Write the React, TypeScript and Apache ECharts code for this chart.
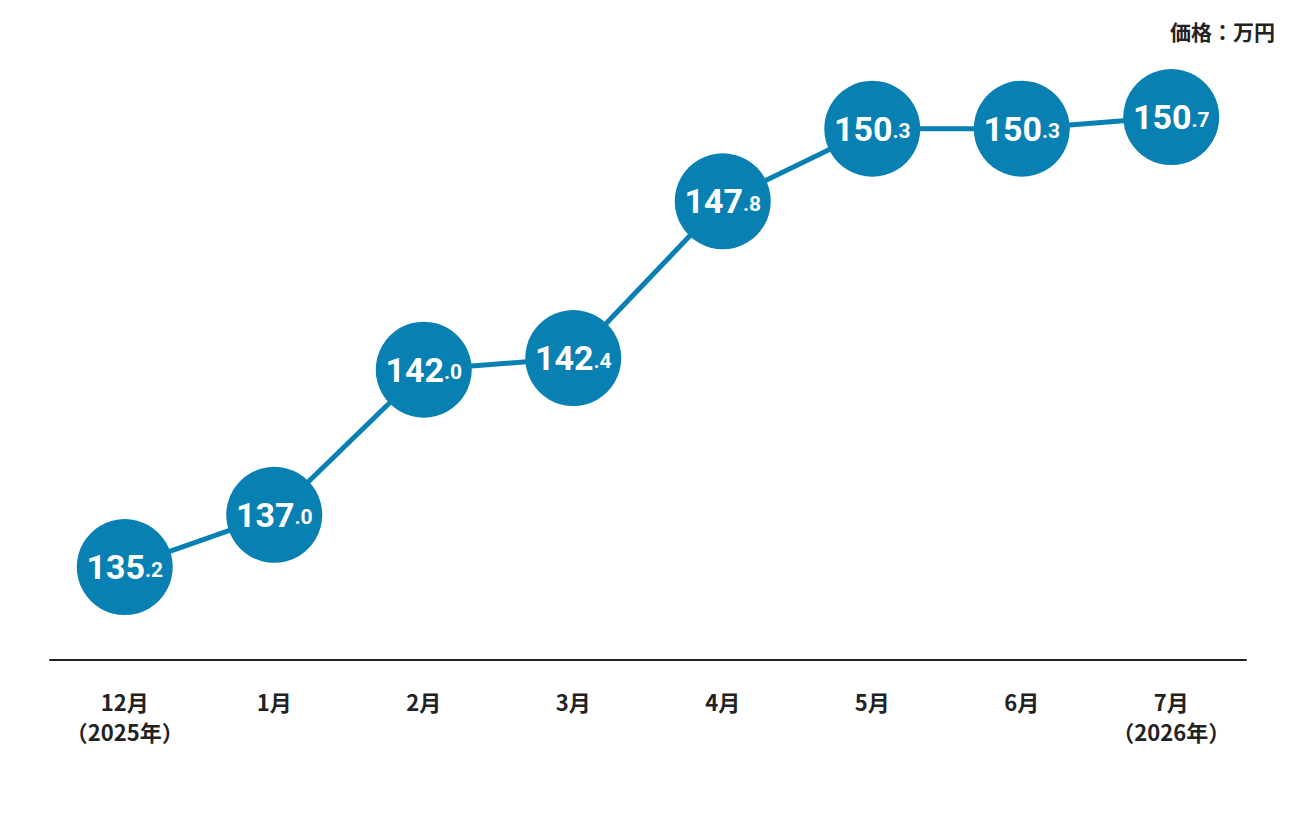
import React, { useEffect, useRef } from "react";
import * as echarts from "echarts";

const categories = ["12月\n（2025年）", "1月", "2月", "3月", "4月", "5月", "6月", "7月\n（2026年）"];
const prices = [135.2, 137.0, 142.0, 142.4, 147.8, 150.3, 150.3, 150.7];
const unitLabel = "価格：万円";

const BLUE = "#0880b2";

export default function App() {
  const ref = useRef<HTMLDivElement>(null);
  useEffect(() => {
    document.body.style.margin = "0";
    const chart = echarts.init(ref.current!, null, { renderer: "svg" });
    chart.setOption({
      animation: false,
      backgroundColor: "#ffffff",
      grid: { left: 50, right: 50, top: 21.3, bottom: 156, containLabel: false },
      graphic: [
        {
          type: "text",
          right: 21,
          top: 20,
          style: {
            text: unitLabel,
            font: 'bold 21px "Noto Sans CJK JP"',
            fill: "#222222",
          },
        },
      ],
      xAxis: {
        type: "category",
        data: categories,
        boundaryGap: true,
        axisLine: { show: true, lineStyle: { color: "#222222", width: 2 } },
        axisTick: { show: false },
        axisLabel: {
          margin: 26,
          color: "#222222",
          fontFamily: "Noto Sans CJK JP",
          fontWeight: "bold",
          fontSize: 22,
          lineHeight: 30,
          interval: 0,
        },
      },
      yAxis: {
        type: "value",
        min: 132,
        max: 154,
        show: false,
        splitLine: { show: false },
      },
      series: [
        {
          type: "line",
          data: prices,
          symbol: "circle",
          symbolSize: 96,
          lineStyle: { color: BLUE, width: 5 },
          itemStyle: { color: BLUE, borderWidth: 0 },
          label: {
            show: true,
            position: "inside",
            formatter: (p: any) => {
              const s = (p.value as number).toFixed(1);
              const [a, b] = s.split(".");
              return `{big|${a}}{small|.${b}}`;
            },
            rich: {
              big: {
                fontFamily: "Roboto",
                fontWeight: "bold",
                fontSize: 34,
                color: "#ffffff",
                verticalAlign: "middle",
                lineHeight: 36,
              },
              small: {
                fontFamily: "Roboto",
                fontWeight: "bold",
                fontSize: 21,
                color: "#ffffff",
                verticalAlign: "middle",
                lineHeight: 36,
                padding: [5, 0, 0, 0],
              },
            },
          },
          z: 3,
        },
      ],
    });
    return () => chart.dispose();
  }, []);
  return <div ref={ref} style={{ width: 1296, height: 816 }} />;
}
